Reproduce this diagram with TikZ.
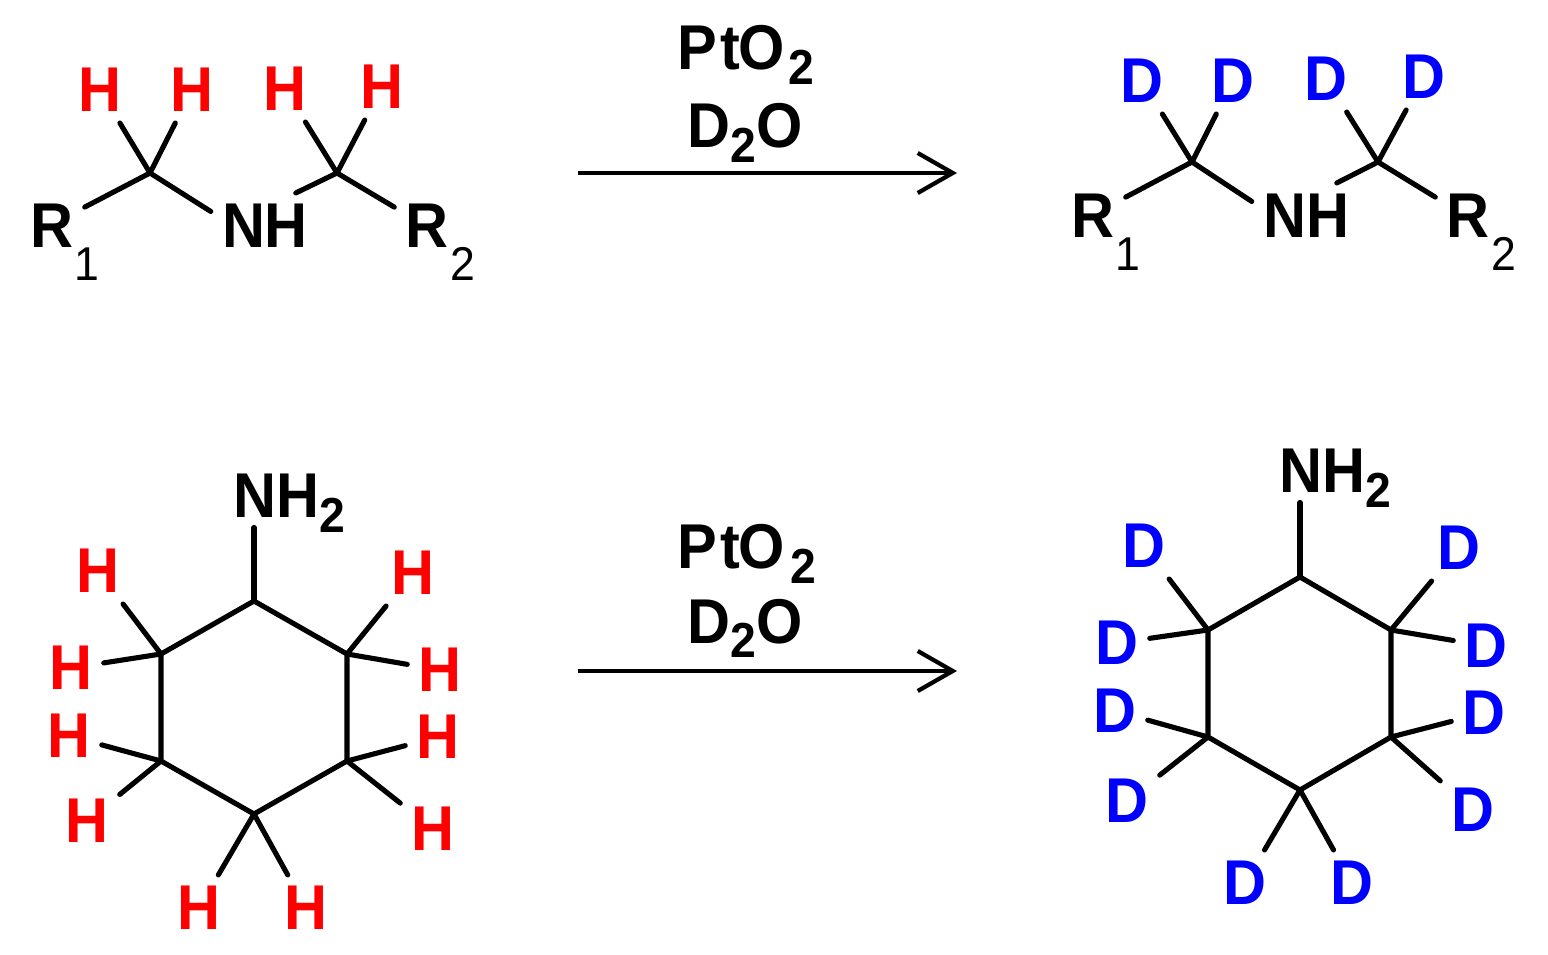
\documentclass[tikz,border=0pt]{standalone}
\usepackage{fontspec}
\setmainfont{Liberation Sans}[FakeStretch=0.94]
\usepackage{xcolor}
\usetikzlibrary{arrows.meta}
\definecolor{hred}{RGB}{255,0,0}
\definecolor{dblue}{RGB}{0,0,255}
\newcommand{\subnum}[1]{\smash{\raisebox{-4pt}{\fontsize{14}{14}\selectfont #1}}}
\tikzset{
    atom/.style={font=\fontsize{18}{20}\selectfont\bfseries, inner sep=3pt},
    hatom/.style={atom, text=hred},
    datom/.style={atom, text=dblue},
    index/.style={font=\fontsize{13.5}{15}\selectfont, inner sep=0pt},
    amine/.style={atom, anchor=base west, inner sep=2.5pt},
    reagent/.style={font=\fontsize{18}{20}\selectfont\bfseries, inner sep=0pt, anchor=base west},
    bond/.style={line width=1.45pt, line cap=round},
    reaction/.style={line width=1.2pt, -{Straight Barb[length=3.5mm, width=4mm, line width=1.2pt]}}
}

\begin{document}
\begin{tikzpicture}[x=0.01cm, y=-0.01cm]
    \useasboundingbox (0, 0) rectangle (1548, 955);

    % top left
    \coordinate (ca) at (150, 173);
    \coordinate (cb) at (337, 173);
    \node[atom] (ra) at (52, 226) {R};
    \node[index] (ia) at (87, 264) {1};
    \node[atom] (na) at (265, 226) {NH};
    \node[atom] (rb) at (427, 226) {R};
    \node[index] (ib) at (463, 264) {2};
    \node[hatom] (ha) at (100, 90) {H};
    \node[hatom] (hb) at (192, 90) {H};
    \node[hatom] (hc) at (285, 89) {H};
    \node[hatom] (hd) at (382, 87) {H};
    \draw[bond] (ra.30) -- (ca) -- (na.165);
    \draw[bond] (na.47) -- (cb) -- (rb.150);
    \draw[bond] (ca) -- (ha);
    \draw[bond] (ca) -- (hb);
    \draw[bond] (cb) -- (hc);
    \draw[bond] (cb) -- (hd);

    % top right
    \coordinate (cc) at (1192, 162);
    \coordinate (cd) at (1378, 162);
    \node[atom] (rc) at (1093, 216) {R};
    \node[index] (ic) at (1128, 254) {1};
    \node[atom] (nb) at (1306, 216) {NH};
    \node[atom] (rd) at (1468, 216) {R};
    \node[index] (id) at (1504, 254) {2};
    \node[datom] (da) at (1142, 81) {D};
    \node[datom] (db) at (1233, 81) {D};
    \node[datom] (dc) at (1326, 79) {D};
    \node[datom] (dd) at (1424, 77) {D};
    \draw[bond] (rc.30) -- (cc) -- (nb.165);
    \draw[bond] (nb.47) -- (cd) -- (rd.150);
    \draw[bond] (cc) -- (da);
    \draw[bond] (cc) -- (db);
    \draw[bond] (cd) -- (dc);
    \draw[bond] (cd) -- (dd);

    % reagents
    \coordinate (aa) at (578, 173);
    \coordinate (ab) at (957, 173);
    \coordinate (ac) at (578, 671);
    \coordinate (ad) at (957, 671);
    \node[reagent] (pa) at (677, 70) {P\kern1pt t\kern-0.5pt O\kern1pt\subnum{2}};
    \node[reagent] (oa) at (687, 148) {D\subnum{2}O};
    \node[reagent] (pb) at (677, 569) {P\kern1pt t\kern-0.5pt O\kern1.5pt\subnum{2}};
    \node[reagent] (ob) at (687, 643) {D\subnum{2}O};
    \draw[reaction] (aa) -- (ab);
    \draw[reaction] (ac) -- (ad);

    % bottom left
    \coordinate (va) at (254, 601);
    \coordinate (vb) at (347, 654);
    \coordinate (vc) at (347, 761);
    \coordinate (vd) at (254, 814);
    \coordinate (ve) at (161, 761);
    \coordinate (vf) at (161, 654);
    \draw[bond, line join=round] (va) -- (vb) -- (vc) -- (vd) -- (ve) -- (vf) -- cycle;
    \node[amine] (nc) at (224, 518) {NH\subnum{2}};
    \node[hatom] (he) at (98, 571) {H};
    \node[hatom] (hf) at (413, 573) {H};
    \node[hatom] (hg) at (71, 668) {H};
    \node[hatom] (hh) at (440, 670) {H};
    \node[hatom] (hi) at (69, 736) {H};
    \node[hatom] (hj) at (438, 737) {H};
    \node[hatom] (hk) at (87, 821) {H};
    \node[hatom] (hl) at (433, 829) {H};
    \node[hatom] (hm) at (199, 908) {H};
    \node[hatom] (hn) at (306, 908) {H};
    \draw[bond] (va) -- (va |- nc.south);
    \draw[bond] (vf) -- (he);
    \draw[bond] (vb) -- (hf);
    \draw[bond] (vf) -- (hg);
    \draw[bond] (vb) -- (hh);
    \draw[bond] (ve) -- (hi);
    \draw[bond] (vc) -- (hj);
    \draw[bond] (ve) -- (hk);
    \draw[bond] (vc) -- (hl);
    \draw[bond] (vd) -- (hm);
    \draw[bond] (vd) -- (hn);

    % bottom right
    \coordinate (wa) at (1300, 577);
    \coordinate (wb) at (1391, 630);
    \coordinate (wc) at (1391, 737);
    \coordinate (wd) at (1300, 790);
    \coordinate (we) at (1208, 737);
    \coordinate (wf) at (1208, 630);
    \draw[bond, line join=round] (wa) -- (wb) -- (wc) -- (wd) -- (we) -- (wf) -- cycle;
    \node[amine] (nd) at (1270, 493) {NH\subnum{2}};
    \node[datom] (de) at (1144, 546) {D};
    \node[datom] (df) at (1459, 548) {D};
    \node[datom] (dg) at (1117, 643) {D};
    \node[datom] (dh) at (1486, 646) {D};
    \node[datom] (di) at (1115, 711) {D};
    \node[datom] (dj) at (1484, 713) {D};
    \node[datom] (dk) at (1127, 801) {D};
    \node[datom] (dl) at (1473, 810) {D};
    \node[datom] (dm) at (1245, 883) {D};
    \node[datom] (dn) at (1352, 883) {D};
    \draw[bond] (wa) -- (wa |- nd.south);
    \draw[bond] (wf) -- (de);
    \draw[bond] (wb) -- (df);
    \draw[bond] (wf) -- (dg);
    \draw[bond] (wb) -- (dh);
    \draw[bond] (we) -- (di);
    \draw[bond] (wc) -- (dj);
    \draw[bond] (we) -- (dk);
    \draw[bond] (wc) -- (dl);
    \draw[bond] (wd) -- (dm);
    \draw[bond] (wd) -- (dn);
\end{tikzpicture}
\end{document}
